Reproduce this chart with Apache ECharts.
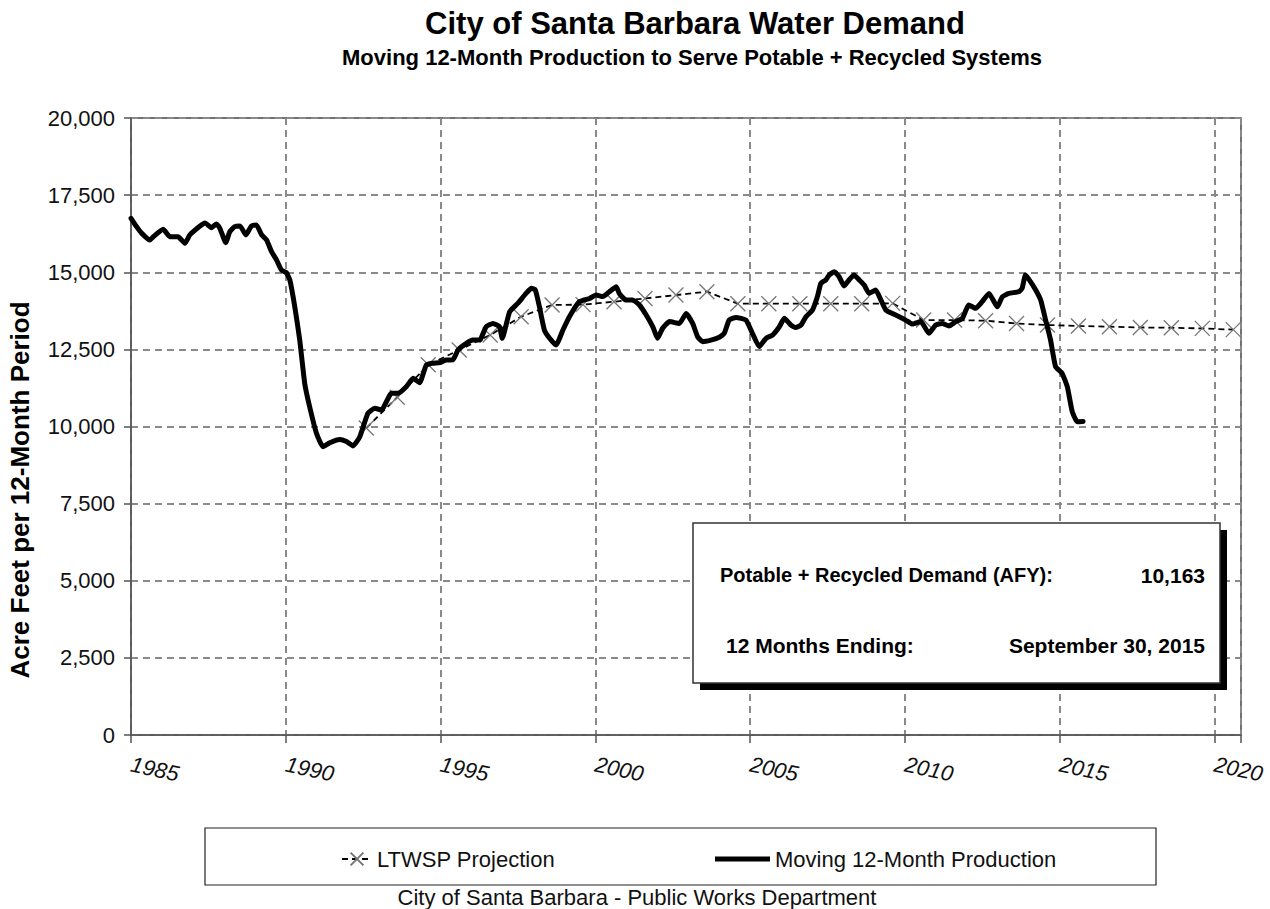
<!DOCTYPE html>
<html>
<head>
<meta charset="utf-8">
<script src="https://cdn.jsdelivr.net/npm/echarts@6/dist/echarts.min.js"></script>
<style>
  html, body { margin: 0; padding: 0; background: #fff; }
  #chart { width: 1270px; height: 909px; }
</style>
</head>
<body>
<div id="chart"></div>
<script>
// moving 12-month production (decimal year, acre feet)
const prodYears = [
  1985.0, 1985.18, 1985.35, 1985.61, 1985.72, 1986.04, 1986.26, 1986.52, 1986.74, 1986.90,
  1987.23, 1987.39, 1987.60, 1987.76, 1987.87, 1988.06, 1988.19, 1988.35, 1988.52, 1988.71,
  1988.89, 1989.05, 1989.22, 1989.38, 1989.54, 1989.70, 1989.86, 1990.02, 1990.13, 1990.29,
  1990.45, 1990.61, 1990.77, 1990.99, 1991.20, 1991.42, 1991.74, 1991.96, 1992.17, 1992.39,
  1992.65, 1992.87, 1993.09, 1993.41, 1993.62, 1993.89, 1994.11, 1994.32, 1994.54, 1994.75,
  1994.97, 1995.18, 1995.40, 1995.56, 1995.83, 1996.04, 1996.26, 1996.47, 1996.69, 1996.90,
  1996.99, 1997.23, 1997.49, 1997.76, 1997.93, 1998.06, 1998.19, 1998.35, 1998.52, 1998.73,
  1998.95, 1999.16, 1999.48, 1999.81, 2000.02, 2000.24, 2000.45, 2000.67, 2000.77, 2000.99,
  2001.20, 2001.42, 2001.64, 2001.85, 2002.01, 2002.17, 2002.39, 2002.71, 2002.93, 2003.14,
  2003.30, 2003.46, 2003.73, 2004.00, 2004.16, 2004.32, 2004.54, 2004.86, 2005.07, 2005.29,
  2005.51, 2005.72, 2005.94, 2006.10, 2006.31, 2006.47, 2006.64, 2006.80, 2007.01, 2007.17,
  2007.28, 2007.44, 2007.55, 2007.71, 2007.87, 2008.03, 2008.19, 2008.35, 2008.52, 2008.68,
  2008.84, 2009.05, 2009.22, 2009.38, 2009.59, 2009.81, 2010.02, 2010.24, 2010.51, 2010.77,
  2010.99, 2011.20, 2011.42, 2011.64, 2011.85, 2012.06, 2012.28, 2012.49, 2012.71, 2012.98,
  2013.14, 2013.35, 2013.68, 2013.78, 2013.89, 2014.05, 2014.22, 2014.38, 2014.54, 2014.70,
  2014.86, 2015.07, 2015.24, 2015.40, 2015.56, 2015.75
];
const prodValues = [
  16750, 16480, 16260, 16045, 16150, 16390, 16150, 16150, 15940, 16210,
  16500, 16600, 16445, 16565, 16425, 15960, 16315, 16480, 16500, 16210,
  16500, 16530, 16210, 16045, 15665, 15400, 15070, 14985, 14750, 13880,
  12800, 11400, 10640, 9780, 9345, 9475, 9580, 9510, 9370, 9670,
  10425, 10590, 10535, 11075, 11075, 11290, 11560, 11420, 11995, 12050,
  12070, 12155, 12160, 12480, 12695, 12800, 12800, 13235, 13340, 13235,
  12860, 13720, 13990, 14315, 14480, 14425, 13885, 13130, 12860, 12640,
  13130, 13560, 14045, 14150, 14260, 14210, 14370, 14530, 14315, 14100,
  14100, 13940, 13615, 13235, 12860, 13185, 13400, 13340, 13665, 13340,
  12910, 12750, 12800, 12890, 13020, 13450, 13535, 13450, 13020, 12590,
  12860, 12965, 13235, 13505, 13290, 13210, 13290, 13560, 13775, 14210,
  14640, 14750, 14910, 15020, 14855, 14555, 14750, 14910, 14750, 14585,
  14315, 14425, 14100, 13775, 13665, 13560, 13450, 13320, 13400, 13020,
  13290, 13340, 13260, 13400, 13505, 13940, 13830, 14045, 14315, 13880,
  14205, 14315, 14370, 14480, 14910, 14695, 14425, 14100, 13450, 12800,
  11940, 11725, 11290, 10480, 10155, 10163
];

// LTWSP projection (one point per year)
const projYears = [
  1992.6, 1993.6, 1994.6, 1995.6, 1996.6, 1997.6, 1998.6, 1999.6, 2000.6, 2001.6,
  2002.6, 2003.6, 2004.6, 2005.6, 2006.6, 2007.6, 2008.6, 2009.6, 2010.6, 2011.6,
  2012.6, 2013.6, 2014.6, 2015.6, 2016.6, 2017.6, 2018.6, 2019.6, 2020.6
];
const projValues = [
  9950, 10950, 12000, 12480, 12965, 13560, 13940, 13950, 14045, 14150,
  14260, 14370, 13980, 13980, 13980, 13980, 13980, 13990, 13450, 13450,
  13430, 13340, 13290, 13260, 13235, 13210, 13200, 13180, 13140
];

const demandText = '10,163';
const endingText = 'September 30, 2015';

const zip = (xs, ys) => xs.map((x, i) => [x, ys[i]]);
const font = 'Arial, "Liberation Sans", sans-serif';

const chart = echarts.init(document.getElementById('chart'), null, { renderer: 'svg' });

const option = {
  backgroundColor: '#fff',
  animation: false,
  grid: {
    left: 131, right: 29, top: 118, bottom: 174,
    show: true, borderColor: '#444', borderWidth: 1.5
  },
  xAxis: {
    type: 'value',
    min: 1985, max: 2020.85, interval: 5,
    axisLine: { lineStyle: { color: '#555', width: 1.5 } },
    axisTick: { show: true, length: 8, lineStyle: { color: '#555', width: 1.5 } },
    axisLabel: {
      color: '#111', fontSize: 22, fontStyle: 'italic', fontFamily: font,
      rotate: -12, margin: 29,
      formatter: function (v) { return v % 5 === 0 ? String(v) : ''; }
    },
    splitLine: { show: true, lineStyle: { color: '#8a8a8a', width: 2, type: [7, 5] } }
  },
  yAxis: {
    type: 'value',
    min: 0, max: 20000, interval: 2500,
    axisLine: { show: true, lineStyle: { color: '#555', width: 1.5 } },
    axisTick: { show: true, length: 7, lineStyle: { color: '#555', width: 1.5 } },
    axisLabel: {
      color: '#111', fontSize: 22, fontFamily: font, margin: 16,
      formatter: function (v) { return v.toLocaleString('en-US'); }
    },
    splitLine: { show: true, lineStyle: { color: '#8a8a8a', width: 2, type: [7, 5] } }
  },
  legend: [{
    data: ['LTWSP Projection'],
    left: 336, top: 843,
    itemWidth: 30, itemHeight: 16, itemGap: 4,
    textStyle: { color: '#111', fontSize: 22, fontFamily: font }
  }, {
    data: [{ name: 'Moving 12-Month Production', icon: 'rect' }],
    left: 710, top: 843,
    itemWidth: 55, itemHeight: 5, itemGap: 4,
    itemStyle: { color: '#000' },
    textStyle: { color: '#111', fontSize: 22, fontFamily: font }
  }],
  series: [{
    name: 'LTWSP Projection',
    type: 'line',
    data: zip(projYears, projValues),
    symbol: 'path://M0,0L10,10M0,10L10,0',
    symbolSize: 15,
    itemStyle: { color: 'none', borderColor: '#777', borderWidth: 1.3 },
    lineStyle: { color: '#000', width: 1.8, type: [6, 4] },
    z: 3
  }, {
    name: 'Moving 12-Month Production',
    type: 'line',
    data: zip(prodYears, prodValues),
    symbol: 'none',
    smooth: 0.15,
    itemStyle: { color: '#000' },
    lineStyle: { color: '#000', width: 5, join: 'round', cap: 'round' },
    z: 4
  }],
  graphic: [
    { type: 'text', style: { x: 695, y: 23, text: 'City of Santa Barbara Water Demand',
      font: 'bold 31px ' + font, fill: '#000', textAlign: 'center', textVerticalAlign: 'middle' }, z: 10 },
    { type: 'text', style: { x: 692, y: 57, text: 'Moving 12-Month Production to Serve Potable + Recycled Systems',
      font: 'bold 22px ' + font, fill: '#000', textAlign: 'center', textVerticalAlign: 'middle' }, z: 10 },
    { type: 'text', x: 20, y: 490, rotation: Math.PI / 2,
      style: { x: 0, y: 0, text: 'Acre Feet per 12-Month Period', font: 'bold 26px ' + font, fill: '#000',
        textAlign: 'center', textVerticalAlign: 'middle' }, z: 10 },
    // info box
    { type: 'rect', shape: { x: 700, y: 530, width: 527, height: 160 }, style: { fill: '#000' }, z: 20 },
    { type: 'rect', shape: { x: 693, y: 523, width: 527, height: 160 },
      style: { fill: '#fff', stroke: '#333', lineWidth: 1.5 }, z: 21 },
    { type: 'text', style: { x: 720, y: 575, text: 'Potable + Recycled Demand (AFY):', font: 'bold 20px ' + font,
      fill: '#000', textAlign: 'left', textVerticalAlign: 'middle' }, z: 22 },
    { type: 'text', style: { x: 1205, y: 575, text: demandText, font: 'bold 21px ' + font,
      fill: '#000', textAlign: 'right', textVerticalAlign: 'middle' }, z: 22 },
    { type: 'text', style: { x: 726, y: 645, text: '12 Months Ending:', font: 'bold 21px ' + font,
      fill: '#000', textAlign: 'left', textVerticalAlign: 'middle' }, z: 22 },
    { type: 'text', style: { x: 1205, y: 645, text: endingText, font: 'bold 21px ' + font,
      fill: '#000', textAlign: 'right', textVerticalAlign: 'middle' }, z: 22 },
    // legend frame
    { type: 'rect', shape: { x: 205, y: 828, width: 951, height: 57 },
      style: { fill: 'none', stroke: '#222', lineWidth: 1.2 }, z: 1 },
    { type: 'text', style: { x: 637, y: 897, text: 'City of Santa Barbara - Public Works Department',
      font: '22px ' + font, fill: '#111', textAlign: 'center', textVerticalAlign: 'middle' }, z: 10 }
  ]
};
chart.setOption(option);
</script>
</body>
</html>
